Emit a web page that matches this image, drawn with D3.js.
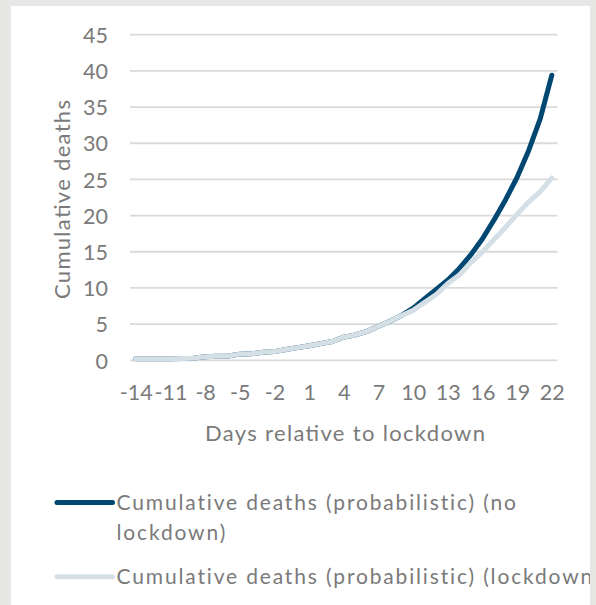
<!DOCTYPE html>
<html>
<head>
<meta charset="utf-8">
<script src="https://cdn.jsdelivr.net/npm/d3@7"></script>
<style>
  body { margin: 0; background: #e7e7e5; }
  svg { display: block; }
  text { font-family: Lato, "Open Sans", sans-serif; fill: #7a7a7a; }
</style>
</head>
<body>
<div id="chart"></div>
<script>
// days relative to lockdown
var days = [-14,-13,-12,-11,-10,-9,-8,-7,-6,-5,-4,-3,-2,-1,0,1,2,3,4,5,6,7,8,9,10,11,12,13,14,15,16,17,18,19,20,21,22];
var noLockdown = [0.2,0.2,0.2,0.2,0.25,0.3,0.5,0.55,0.6,0.85,0.9,1.1,1.2,1.5,1.75,2.0,2.3,2.6,3.2,3.5,4.0,4.7,5.4,6.2,7.2,8.5,9.8,11.1,12.7,14.6,16.8,19.4,22.2,25.3,29.0,33.4,39.4];
var lockdown   = [0.2,0.2,0.2,0.2,0.25,0.3,0.5,0.55,0.6,0.85,0.9,1.1,1.2,1.5,1.75,2.0,2.3,2.6,3.2,3.5,4.0,4.7,5.4,6.2,6.9,8.0,9.1,10.6,11.8,13.5,15.0,16.7,18.4,20.2,21.9,23.3,25.2];
var yTicks = [0,5,10,15,20,25,30,35,40,45];
var xTickLabels = [-14,-11,-8,-5,-2,1,4,7,10,13,16,19,22];
var seriesNames = ['Cumulative deaths (probabilistic) (no lockdown)', 'Cumulative deaths (probabilistic) (lockdown)'];
var seriesColors = ['#004872', '#d5dfe6'];

var W = 596, H = 605;
var svg = d3.select('#chart')
    .append('svg')
    .attr('width', W)
    .attr('height', H)

// white card
svg.append('rect')
    .attr('x', 11)
    .attr('y', 6)
    .attr('width', 579)
    .attr('height', H)
    .attr('fill', '#ffffff')

svg.append('clipPath')
    .attr('id', 'card')
    .append('rect')
    .attr('x', 11)
    .attr('y', 6)
    .attr('width', 579)
    .attr('height', H)

var x = d3.scalePoint()
    .domain(days)
    .range([130, 557.6])
    .padding(0.5)
var y = d3.scaleLinear()
    .domain([0, 45])
    .range([360.3, 34.7])

// gridlines
svg.append('g')
    .selectAll('line')
    .data(yTicks)
    .enter()
    .append('line')
    .attr('x1', 130)
    .attr('x2', 557.6)
    .attr('y1', function(d){return y(d)})
    .attr('y2', function(d){return y(d)})
    .attr('stroke', '#dadada')
    .attr('stroke-width', 1.8)

// y axis labels
var yAxis = svg.append('g')
    .attr('transform', 'translate(108,0)')
    .call(d3.axisLeft(y).tickValues(yTicks).tickSize(0).tickPadding(0))
yAxis.select('.domain').remove()
yAxis.selectAll('text')
    .attr('font-size', 21.5)
    .attr('font-family', null)
    .attr('fill', null)
    .attr('dy', '0.36em')

// x axis labels
var xAxis = svg.append('g')
    .attr('transform', 'translate(0,384.5)')
    .call(d3.axisBottom(x).tickValues(xTickLabels).tickSize(0).tickPadding(0))
xAxis.select('.domain').remove()
xAxis.selectAll('text')
    .attr('font-size', 21.5)
    .attr('font-family', null)
    .attr('fill', null)
    .attr('dy', '0.72em')

// axis titles
svg.append('text')
    .attr('x', 345)
    .attr('y', 441)
    .attr('text-anchor', 'middle')
    .attr('font-size', 22)
    .attr('textLength', 280)
    .attr('lengthAdjust', 'spacing')
    .text('Days relative to lockdown')

svg.append('text')
    .attr('transform', 'translate(70,199.5) rotate(-90)')
    .attr('text-anchor', 'middle')
    .attr('font-size', 22)
    .attr('textLength', 199)
    .attr('lengthAdjust', 'spacing')
    .text('Cumulative deaths')

// lines
var line = d3.line()
    .x(function(d, i){return x(days[i])})
    .y(function(d){return y(d)})

svg.append('g')
    .selectAll('path')
    .data([noLockdown, lockdown])
    .enter()
    .append('path')
    .attr('d', line)
    .attr('fill', 'none')
    .attr('stroke', function(d, i){return seriesColors[i]})
    .attr('stroke-width', 5)
    .attr('stroke-linecap', 'round')
    .attr('stroke-linejoin', 'round')

// legend, clipped at the card edge like the picture
var legend = svg.append('g').attr('clip-path', 'url(#card)')
var legendRows = [
    {lineY: 502.5, lines: ['Cumulative deaths (probabilistic) (no', 'lockdown)'], baselines: [510, 539.5]},
    {lineY: 576.7, lines: ['Cumulative deaths (probabilistic) (lockdown)'], baselines: [583.5]}
]
legendRows.forEach(function(row, i){
    legend.append('line')
        .attr('x1', 57)
        .attr('x2', 112.5)
        .attr('y1', row.lineY)
        .attr('y2', row.lineY)
        .attr('stroke', seriesColors[i])
        .attr('stroke-width', 5)
        .attr('stroke-linecap', 'round')
    row.lines.forEach(function(t, j){
        legend.append('text')
            .attr('class', 'legtext')
            .attr('x', 116.5)
            .attr('y', row.baselines[j])
            .attr('font-size', 21)
            .text(t)
    })
})

// stretch legend letters so the first line is as wide as in the picture
var first = legend.select('.legtext')
var natural = first.node().getComputedTextLength()
var spacing = (402 - natural) / first.text().length
legend.selectAll('.legtext').attr('letter-spacing', spacing)
</script>
</body>
</html>
